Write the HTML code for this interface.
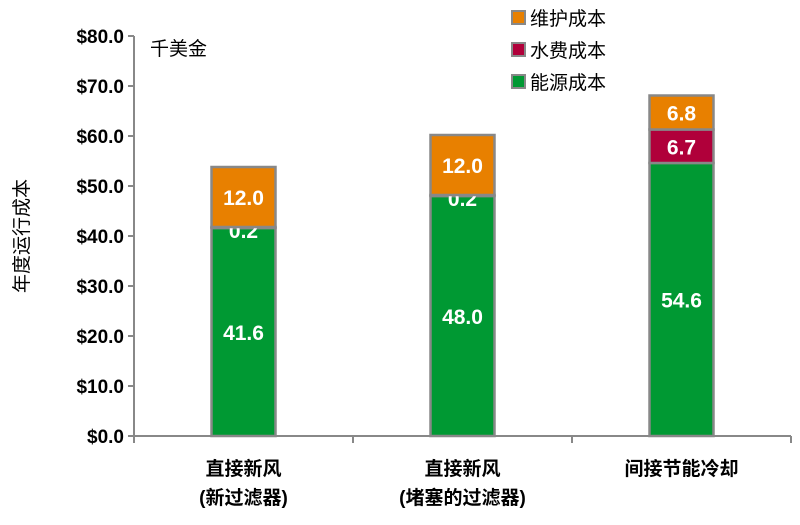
<!DOCTYPE html>
<html><head><meta charset="utf-8"><style>
body{margin:0;background:#fff;}
svg text{font-family:"Liberation Sans","Noto Sans CJK SC",sans-serif;}
</style></head><body>
<svg width="800" height="520" viewBox="0 0 800 520">
<g id="axes"></g>
<g id="bars"></g>
<text x="150" y="55" font-size="19" fill="#000">千美金</text>
<text transform="translate(28,236) rotate(-90)" text-anchor="middle" font-size="19" fill="#000">年度运行成本</text>
<g id="legend"></g>
</svg>
<script>
const categories=[["直接新风","(新过滤器)"],["直接新风","(堵塞的过滤器)"],["间接节能冷却",""]];
const energy=[41.6,48.0,54.6];
const water=[0.2,0.2,6.7];
const maint=[12.0,12.0,6.8];
const yTicks=[0,10,20,30,40,50,60,70,80];
const seriesNames=["维护成本","水费成本","能源成本"];
const colors={energy:"#009933",water:"#b0003a",maint:"#e88000"};
const NS="http://www.w3.org/2000/svg";
const x0=134,x1=791,y0=436,y1=36,yMax=80;
const yS=v=>y0-(v/yMax)*(y0-y1);
const band=(x1-x0)/categories.length;
const xC=i=>x0+band*(i+0.5);
const bw=64;
function el(t,a,p){const e=document.createElementNS(NS,t);for(const k in a)e.setAttribute(k,a[k]);p.appendChild(e);return e;}
const ax=document.getElementById('axes');
let l=el('line',{x1:x0,y1:y1,x2:x0,y2:y0,stroke:'#888','stroke-width':2},ax);


l=el('line',{x1:x0-6,y1:y0,x2:x1,y2:y0,stroke:'#888','stroke-width':2},ax);


yTicks.forEach(v=>{
  const y=yS(v);
  const t=el('line',{x1:x0-6,y1:y,x2:x0,y2:y,stroke:'#888','stroke-width':2},ax);
  
  
  const tx=el('text',{x:x0-10,y:y+7,'text-anchor':'end','font-size':19,'font-weight':'bold',fill:'#000'},ax);
  tx.textContent='$'+v.toFixed(1);
  
  
});
for(let i=0;i<=categories.length;i++){
  const x=x0+band*i;
  const t=el('line',{x1:x,y1:y0,x2:x,y2:y0+7,stroke:'#888','stroke-width':2},ax);
  
  
}
categories.forEach((c,i)=>{
  c.forEach((s,j)=>{ if(!s)return;
    const tx=el('text',{x:xC(i),y:475+j*29,'text-anchor':'middle','font-size':19,'font-weight':'bold',fill:'#000'},ax);
    tx.textContent=s;
    
    
  });
});
const bg=document.getElementById('bars');
categories.forEach((c,i)=>{
  let base=0;
  [["energy",energy[i]],["water",water[i]],["maint",maint[i]]].forEach(([k,v])=>{
    const yt=yS(base+v),yb=yS(base);
    const r=el('rect',{x:xC(i)-bw/2,y:yt,width:bw,height:yb-yt,fill:colors[k],stroke:'#888','stroke-width':2.5},bg);
    
    
    let ly=(yt+yb)/2+8;
    if(v<1) ly=yt+11;
    const tx=el('text',{x:xC(i),y:ly,'text-anchor':'middle','font-size':21,'font-weight':'bold',fill:'#fff'},bg);
    tx.textContent=v.toFixed(1);
    
    
    base+=v;
  });
});
const lg=document.getElementById('legend');
const lc=[colors.maint,colors.water,colors.energy];
seriesNames.forEach((n,i)=>{
  const y=18+i*32;
  const r=el('rect',{x:512,y:y-7,width:13,height:13,fill:lc[i],stroke:'#888','stroke-width':2},lg);
  
  
  const tx=el('text',{x:530,y:y+7,'font-size':19,fill:'#000'},lg);
  tx.textContent=n;
  
  
});
</script>
</body></html>
